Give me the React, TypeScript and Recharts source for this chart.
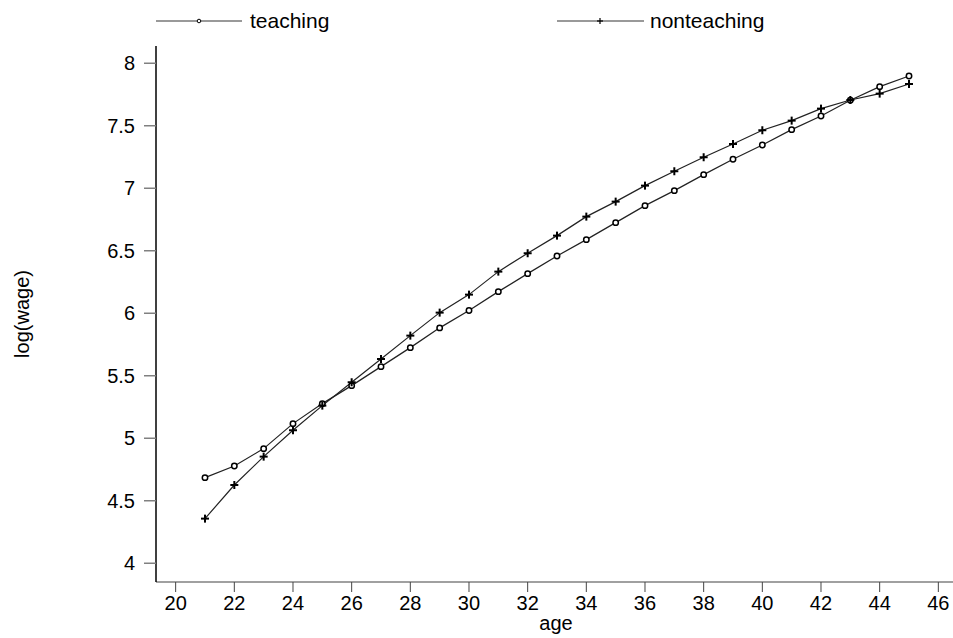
import React from 'react';
import { CartesianGrid, Legend, Line, LineChart, XAxis, YAxis } from 'recharts';

const ages = [21, 22, 23, 24, 25, 26, 27, 28, 29, 30, 31, 32, 33, 34, 35, 36, 37, 38, 39, 40, 41, 42, 43, 44, 45];
const teaching = [4.685, 4.778, 4.917, 5.117, 5.277, 5.421, 5.573, 5.725, 5.883, 6.022, 6.173, 6.317, 6.458, 6.589, 6.725, 6.861, 6.981, 7.109, 7.232, 7.346, 7.469, 7.578, 7.704, 7.813, 7.898];
const nonteaching = [4.357, 4.626, 4.853, 5.064, 5.261, 5.448, 5.634, 5.821, 6.005, 6.149, 6.333, 6.48, 6.621, 6.773, 6.893, 7.021, 7.136, 7.248, 7.354, 7.464, 7.541, 7.637, 7.706, 7.757, 7.834];
const xTicks = [20, 22, 24, 26, 28, 30, 32, 34, 36, 38, 40, 42, 44, 46];
const yTicks = [4, 4.5, 5, 5.5, 6, 6.5, 7, 7.5, 8];

const data = ages.map((age, i) => ({ age, teaching: teaching[i], nonteaching: nonteaching[i] }));

const FONT = '"Liberation Sans", Arial, sans-serif';

const CircleDot = (props: any) => {
  const { cx, cy, index } = props;
  if (cx == null || cy == null) return null;
  return <circle key={`c-${index}`} cx={cx} cy={cy} r={2.7} fill="#fff" stroke="#000" strokeWidth={1.5} />;
};

const PlusDot = (props: any) => {
  const { cx, cy, index } = props;
  if (cx == null || cy == null) return null;
  return (
    <g key={`p-${index}`}>
      <line x1={cx - 4} y1={cy} x2={cx + 4} y2={cy} stroke="#000" strokeWidth={2} />
      <line x1={cx} y1={cy - 4} x2={cx} y2={cy + 4} stroke="#000" strokeWidth={2} />
    </g>
  );
};

// legend drawn like Stata's: a short line with the marker in its middle
const renderLegend = () => (
  <svg width={953} height={40} style={{ display: 'block' }}>
    <line x1={156} y1={21} x2={242} y2={21} stroke="#777" strokeWidth={1.3} />
    <circle cx={199} cy={21} r={1.8} fill="#fff" stroke="#000" strokeWidth={1} />
    <text x={250} y={28} fontSize={21} fontFamily={FONT} fill="#000">teaching</text>
    <line x1={557} y1={21} x2={644} y2={21} stroke="#777" strokeWidth={1.3} />
    <line x1={597} y1={21} x2={603} y2={21} stroke="#000" strokeWidth={1.2} />
    <line x1={600} y1={18} x2={600} y2={24} stroke="#000" strokeWidth={1.2} />
    <text x={650} y={28} fontSize={21} fontFamily={FONT} fill="#000">nonteaching</text>
  </svg>
);

export default function App() {
  return (
    <div style={{ position: 'absolute', left: 0, top: 0, width: 953, height: 638, background: '#fff' }}>
      <LineChart width={953} height={638} data={data} margin={{ top: 6, right: 0, bottom: 0, left: 0 }}>
        <CartesianGrid stroke="none" fill="none" />
        <XAxis
          dataKey="age"
          type="number"
          domain={[19.33, 46.5]}
          ticks={xTicks}
          allowDataOverflow
          height={56}
          stroke="#808080"
          axisLine={{ stroke: '#808080', strokeWidth: 1.5 }}
          tickLine={{ stroke: '#444', strokeWidth: 1 }}
          tickSize={10}
          tickMargin={4}
          tick={{ fill: '#000', fontSize: 20, fontFamily: FONT }}
          label={{
            content: () => (
              <text x={556} y={630} textAnchor="middle" fontSize={20} fontFamily={FONT} fill="#000">age</text>
            ),
          }}
        />
        <YAxis
          type="number"
          domain={[3.85, 8.138]}
          ticks={yTicks}
          allowDataOverflow
          width={156}
          axisLine={{ stroke: '#000', strokeWidth: 1.5 }}
          tickLine={{ stroke: '#808080', strokeWidth: 1.5 }}
          tickSize={12}
          tickMargin={9}
          tick={{ fill: '#000', fontSize: 20, fontFamily: FONT }}
          label={{
            content: () => (
              <text
                x={29}
                y={314}
                transform="rotate(-90 29 314)"
                textAnchor="middle"
                fontSize={20}
                fontFamily={FONT}
                fill="#000"
              >
                log(wage)
              </text>
            ),
          }}
        />
        <Legend
          verticalAlign="top"
          content={renderLegend}
          wrapperStyle={{ position: 'absolute', top: 0, left: 0, width: 953, height: 40 }}
        />
        <Line
          dataKey="teaching"
          name="teaching"
          type="linear"
          stroke="#222"
          strokeWidth={1.2}
          dot={CircleDot}
          activeDot={false}
          isAnimationActive={false}
        />
        <Line
          dataKey="nonteaching"
          name="nonteaching"
          type="linear"
          stroke="#222"
          strokeWidth={1.2}
          dot={PlusDot}
          activeDot={false}
          isAnimationActive={false}
        />
      </LineChart>
    </div>
  );
}
